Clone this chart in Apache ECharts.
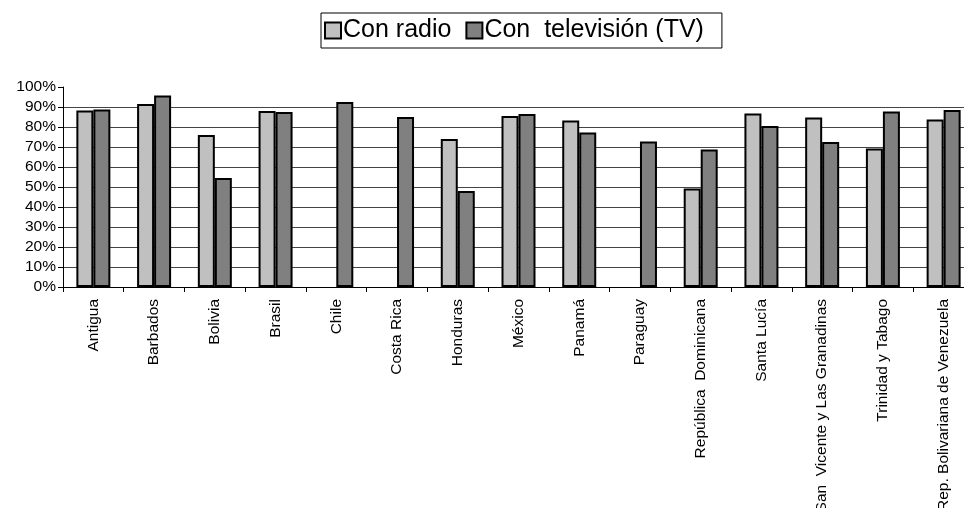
<!DOCTYPE html>
<html>
<head>
<meta charset="utf-8">
<script src="https://cdn.jsdelivr.net/npm/echarts@6/dist/echarts.min.js"></script>
<style>
html, body { margin: 0; padding: 0; background: #fff; }
#chart { width: 964px; height: 508px; }
</style>
</head>
<body>
<div id="chart"></div>
<script>
// paises
const countries = ['Antigua', 'Barbados', 'Bolivia', 'Brasil', 'Chile', 'Costa Rica', 'Honduras',
    'México', 'Panamá', 'Paraguay', 'República  Dominicana', 'Santa Lucía',
    'San  Vicente y Las Granadinas', 'Trinidad y Tabago', 'Rep. Bolivariana de Venezuela']
// porcentaje de hogares (null = sin dato)
const radio = [88.3, 91.5, 76, 88, null, null, 74, 85.5, 83.3, null, 49.3, 86.8, 84.8, 69.2, 83.7]
const tv = [88.7, 95.8, 54.5, 87.5, 92.5, 85, 48, 86.5, 77.3, 72.7, 68.7, 80.5, 72.5, 87.8, 88.5]
const seriesNames = ['Con radio', 'Con  televisión (TV)']

const font = 'Liberation Sans, Arial, sans-serif'
let chart = echarts.init(document.getElementById('chart'))
chart.setOption({
    backgroundColor: '#fff',
    animation: false,
    textStyle: { fontFamily: font, color: '#000' },
    legend: {
        data: seriesNames,
        left: 321,
        top: 13,
        padding: [5, 18, 5, 3],
        borderColor: '#000',
        borderWidth: 1,
        itemWidth: 16,
        itemHeight: 16,
        itemGap: 14,
        icon: 'rect',
        itemStyle: { borderColor: '#000', borderWidth: 2 },
        textStyle: { fontSize: 25, color: '#000', padding: [0, 0, 0, -3] }
    },
    grid: { left: 63, width: 911, top: 87, height: 200, outerBoundsMode: 'none' },
    xAxis: {
        type: 'category',
        data: countries,
        axisLine: { lineStyle: { color: '#000', width: 1 } },
        axisTick: { show: true, length: 5, lineStyle: { color: '#000' } },
        axisLabel: { rotate: 90, interval: 0, margin: 12, fontSize: 15.5, color: '#000' }
    },
    yAxis: {
        type: 'value',
        min: 0,
        max: 100,
        interval: 10,
        axisLine: { show: true, lineStyle: { color: '#000', width: 1 } },
        axisTick: { show: true, length: 5, lineStyle: { color: '#000' } },
        axisLabel: { formatter: '{value}%', fontSize: 15.5, color: '#000', margin: 7 },
        splitLine: { show: true, showMaxLine: false, lineStyle: { color: '#444', width: 1 } }
    },
    series: [
        {
            name: seriesNames[0],
            type: 'bar',
            data: radio,
            barWidth: 17,
            barGap: '0%',
            itemStyle: { color: '#c0c0c0', borderColor: '#000', borderWidth: 2 }
        },
        {
            name: seriesNames[1],
            type: 'bar',
            data: tv,
            barWidth: 17,
            itemStyle: { color: '#808080', borderColor: '#000', borderWidth: 2 }
        }
    ]
})
</script>
</body>
</html>
